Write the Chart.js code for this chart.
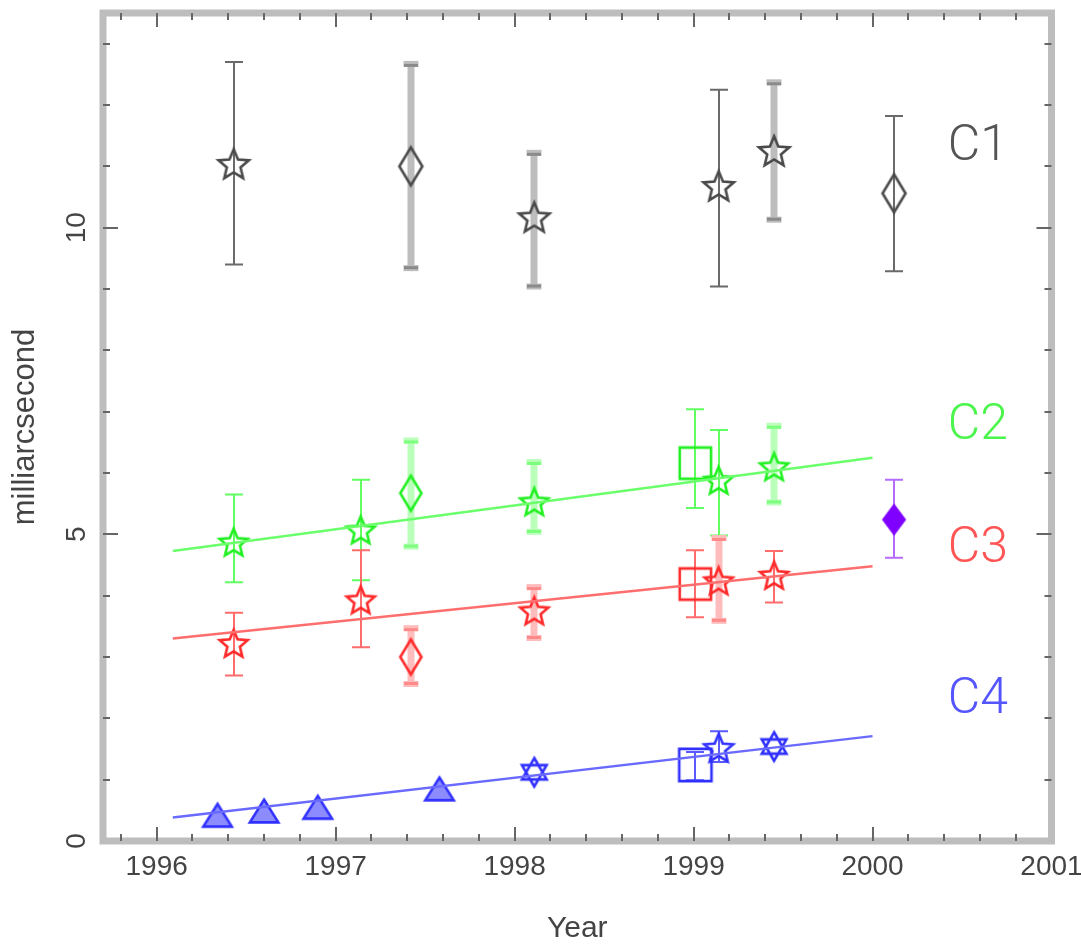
<!DOCTYPE html>
<html lang="en">
<head>
    <meta charset="UTF-8">
    <title>Séparation des composantes</title>
    <script src="https://cdn.jsdelivr.net/npm/chart.js@4.4.1/dist/chart.umd.min.js"></script>
    <style>
        html, body { margin: 0; padding: 0; background: #fff; }
    </style>
</head>
<body>
<canvas id="graphe" width="1081" height="947"></canvas>
<script>

    // Composante C1
    const anneesC1 = [1996.43, 1997.42, 1998.11, 1999.14, 1999.45, 2000.12];
    const valeursC1 = [11.04, 11.00, 10.17, 10.68, 11.25, 10.56];
    const basC1 = [9.40, 9.34, 9.04, 9.04, 10.13, 9.29];
    const hautC1 = [12.70, 12.67, 11.22, 12.25, 12.37, 11.82];
    const symbolesC1 = ['etoile', 'losange', 'etoile', 'etoile', 'etoile', 'losange'];
    const sessionsC1 = ['A', 'B', 'B', 'A', 'B', 'A'];

    // Composante C2
    const anneesC2 = [1996.43, 1997.14, 1997.42, 1998.11, 1999.01, 1999.14, 1999.45];
    const valeursC2 = [4.87, 5.07, 5.67, 5.53, 6.16, 5.88, 6.10];
    const basC2 = [4.22, 4.25, 4.80, 5.04, 5.43, 4.98, 5.52];
    const hautC2 = [5.65, 5.89, 6.53, 6.18, 7.04, 6.70, 6.77];
    const symbolesC2 = ['etoile', 'etoile', 'losange', 'etoile', 'carre', 'etoile', 'etoile'];
    const sessionsC2 = ['A', 'A', 'B', 'B', 'A', 'A', 'B'];

    // Composante C3
    const anneesC3 = [1996.43, 1997.14, 1997.42, 1998.11, 1999.01, 1999.14, 1999.45];
    const valeursC3 = [3.22, 3.93, 3.00, 3.75, 4.19, 4.24, 4.33];
    const basC3 = [2.70, 3.16, 2.56, 3.31, 3.65, 3.59, 3.89];
    const hautC3 = [3.72, 4.74, 3.47, 4.14, 4.74, 4.94, 4.73];
    const symbolesC3 = ['etoile', 'etoile', 'losange', 'etoile', 'carre', 'etoile', 'etoile'];
    const sessionsC3 = ['A', 'A', 'B', 'B', 'A', 'B', 'A'];

    // Composante C4
    const anneesC4 = [1996.34, 1996.60, 1996.90, 1997.58, 1998.11, 1999.01, 1999.14, 1999.45];
    const valeursC4 = [0.42, 0.49, 0.55, 0.85, 1.12, 1.24, 1.52, 1.54];
    const basC4 = [null, null, null, null, null, 0.99, 1.29, null];
    const hautC4 = [null, null, null, null, null, 1.45, 1.79, null];
    const symbolesC4 = ['triangle', 'triangle', 'triangle', 'triangle', 'hexa', 'carre', 'etoile', 'hexa'];

    // Point isolé (violet)
    const anneesC5 = [2000.12];
    const valeursC5 = [5.24];
    const basC5 = [4.62];
    const hautC5 = [5.89];

    // Ajustements linéaires
    const ajustAnnees = [1996.09, 2000.00];
    const ajustC2 = [4.73, 6.25];
    const ajustC3 = [3.30, 4.48];
    const ajustC4 = [0.385, 1.71];

    const ticksX = [1996, 1997, 1998, 1999, 2000, 2001];
    const ticksY = [0, 5, 10];
    const nomsComposantes = ['C1', 'C2', 'C3', 'C4'];

    const policeAxes = '"Liberation Sans", Arial, sans-serif';

    // Dessine un symbole sur un petit canvas (utilisé comme pointStyle)
    let creeSymbole = (forme, couleur, l, h, remplissage) => {
        let ep = 2.6;
        let c = document.createElement('canvas');
        c.width = Math.ceil(l + ep * 2 + 2);
        c.height = Math.ceil(h + ep * 2 + 2);
        let g = c.getContext('2d');
        let cx = c.width / 2, cy = c.height / 2;
        g.strokeStyle = couleur;
        g.lineWidth = ep;
        g.lineJoin = 'miter';
        g.beginPath();
        if (forme === 'etoile') {
            let R = l / 2;
            for (let k = 0; k < 10; k++) {
                let rr = k % 2 ? R * 0.45 : R;
                let a = -Math.PI / 2 + k * Math.PI / 5;
                g.lineTo(cx + rr * Math.cos(a), cy + 0.08 * R + rr * Math.sin(a));
            }
            g.closePath();
        } else if (forme === 'losange') {
            g.moveTo(cx, cy - h / 2);
            g.lineTo(cx + l / 2, cy);
            g.lineTo(cx, cy + h / 2);
            g.lineTo(cx - l / 2, cy);
            g.closePath();
        } else if (forme === 'carre') {
            g.rect(cx - l / 2, cy - h / 2, l, h);
        } else if (forme === 'triangle') {
            g.moveTo(cx, cy - h / 2);
            g.lineTo(cx + l / 2, cy + h / 2);
            g.lineTo(cx - l / 2, cy + h / 2);
            g.closePath();
        } else if (forme === 'hexa') {
            let R = l / 2;
            for (let t = 0; t < 2; t++) {
                for (let k = 0; k < 3; k++) {
                    let a = -Math.PI / 2 + t * Math.PI + k * 2 * Math.PI / 3;
                    if (k === 0) g.moveTo(cx + R * Math.cos(a), cy + R * Math.sin(a));
                    else g.lineTo(cx + R * Math.cos(a), cy + R * Math.sin(a));
                }
                g.closePath();
            }
        }
        if (remplissage) {
            g.fillStyle = remplissage;
            g.fill();
        }
        g.stroke();
        return c;
    };

    // Tailles des symboles selon la forme
    let tailles = {
        etoile: [32, 32], losange: [23, 38], carre: [34, 34], triangle: [30, 24], hexa: [30, 30]
    };

    let symboles = (liste, couleur, reduction, fond) => liste.map(forme => {
        let [l, h] = tailles[forme];
        let rempli = forme === 'triangle' ? fond : null;
        return creeSymbole(forme, couleur, l * reduction, h * reduction, rempli);
    });

    let points = (annees, valeurs) => annees.map((a, i) => ({ x: a, y: valeurs[i] }));

    // Barres d'erreur, dessinées sous les symboles
    const pluginBarres = {
        id: 'barres',
        beforeDatasetsDraw(chart) {
            const ctx = chart.ctx;
            const sx = chart.scales.x, sy = chart.scales.y;
            ctx.save();
            chart.data.datasets.forEach(ds => {
                if (!ds.bas) return;
                ds.data.forEach((p, i) => {
                    if (ds.bas[i] == null) return;
                    let x = Math.round(sx.getPixelForValue(p.x));
                    let y1 = sy.getPixelForValue(ds.bas[i]);
                    let y2 = sy.getPixelForValue(ds.haut[i]);
                    let large = ds.sessions && ds.sessions[i] === 'B';
                    if (large) {
                        ctx.strokeStyle = ds.couleurLarge;
                        ctx.lineWidth = 7;
                        ctx.beginPath();
                        ctx.moveTo(x, y1);
                        ctx.lineTo(x, y2);
                        ctx.stroke();
                        ctx.fillStyle = ds.couleurLarge;
                        ctx.fillRect(x - 7.5, y2 - 3, 15, 6);
                        ctx.fillRect(x - 7.5, y1 - 3, 15, 6);
                        ctx.fillStyle = ds.couleurCap;
                        ctx.fillRect(x - 7, y2, 14, 3);
                        ctx.fillRect(x - 7, y1 - 2, 14, 3);
                    } else {
                        ctx.strokeStyle = ds.couleurFine;
                        ctx.lineWidth = 2;
                        ctx.beginPath();
                        ctx.moveTo(x, y1);
                        ctx.lineTo(x, y2);
                        ctx.moveTo(x - 9, y1);
                        ctx.lineTo(x + 9, y1);
                        ctx.moveTo(x - 9, y2);
                        ctx.lineTo(x + 9, y2);
                        ctx.stroke();
                    }
                });
            });
            ctx.restore();
        }
    };

    // Cadre gris et graduations intérieures
    const pluginCadre = {
        id: 'cadre',
        afterDraw(chart) {
            const ctx = chart.ctx;
            const { left, right, top, bottom } = chart.chartArea;
            const sx = chart.scales.x, sy = chart.scales.y;
            ctx.save();
            ctx.strokeStyle = '#bdbdbd';
            ctx.lineWidth = 7;
            ctx.strokeRect(left, top, right - left, bottom - top);
            ctx.strokeStyle = '#666';
            ctx.lineWidth = 2;
            ctx.beginPath();
            for (let k = 1; k < 27; k++) {
                let v = 1995.6 + k * 0.2;
                let majeur = Math.abs(v - Math.round(v)) < 1e-6;
                let x = Math.round(sx.getPixelForValue(v));
                let lg = majeur ? 14 : 7;
                ctx.moveTo(x, bottom);
                ctx.lineTo(x, bottom - lg);
                ctx.moveTo(x, top);
                ctx.lineTo(x, top + lg);
            }
            for (let v = 1; v <= 13; v++) {
                let y = Math.round(sy.getPixelForValue(v));
                let lg = v % 5 === 0 ? 15 : 7;
                ctx.moveTo(left, y);
                ctx.lineTo(left + lg, y);
                ctx.moveTo(right, y);
                ctx.lineTo(right - lg, y);
            }
            ctx.stroke();
            ctx.restore();
        }
    };

    // Noms des composantes, placés en coordonnées du graphe
    const pluginNoms = {
        id: 'noms',
        afterDatasetsDraw(chart) {
            const ctx = chart.ctx;
            const sx = chart.scales.x, sy = chart.scales.y;
            const places = [[2000.42, 11.3, '#555'], [2000.42, 6.76, '#4cf54c'], [2000.42, 4.76, '#ff5555'], [2000.42, 2.29, '#5555ff']];
            ctx.save();
            ctx.font = '300 50px Roboto, "Open Sans", sans-serif';
            ctx.textBaseline = 'middle';
            ctx.textAlign = 'left';
            nomsComposantes.forEach((nom, i) => {
                let [a, v, coul] = places[i];
                ctx.fillStyle = coul;
                ctx.fillText(nom, sx.getPixelForValue(a), sy.getPixelForValue(v));
            });
            ctx.restore();
        }
    };

    let chargeGraphe = () => {

        let jeux = [
            { type: 'line', data: points(ajustAnnees, ajustC2), borderColor: '#6cff6c', borderWidth: 2.5, pointRadius: 0 },
            { type: 'line', data: points(ajustAnnees, ajustC3), borderColor: '#ff6e6e', borderWidth: 2.5, pointRadius: 0 },
            { type: 'line', data: points(ajustAnnees, ajustC4), borderColor: '#6a6aff', borderWidth: 2.5, pointRadius: 0 },
            {
                data: points(anneesC1, valeursC1), bas: basC1, haut: hautC1, sessions: sessionsC1,
                couleurFine: '#6a6a6a', couleurLarge: '#bdbdbd', couleurCap: '#8a8a8a',
                pointStyle: symboles(symbolesC1, '#4a4a4a', 1), pointRadius: 12
            },
            {
                data: points(anneesC2, valeursC2), bas: basC2, haut: hautC2, sessions: sessionsC2,
                couleurFine: '#62ff62', couleurLarge: '#baffba', couleurCap: '#7cff7c',
                pointStyle: symboles(symbolesC2, '#22f022', 0.92), pointRadius: 12
            },
            {
                data: points(anneesC3, valeursC3), bas: basC3, haut: hautC3, sessions: sessionsC3,
                couleurFine: '#ff6c6c', couleurLarge: '#ffbcbc', couleurCap: '#ff8a8a',
                pointStyle: symboles(symbolesC3, '#ff2a2a', 0.92), pointRadius: 12
            },
            {
                data: points(anneesC4, valeursC4), bas: basC4, haut: hautC4,
                couleurFine: '#5a5aff', couleurLarge: '#b8b8ff', couleurCap: '#7a7aff',
                pointStyle: symboles(symbolesC4, '#3030ff', 0.95, '#8c8cff'), pointRadius: 12
            },
            {
                data: points(anneesC5, valeursC5), bas: basC5, haut: hautC5,
                couleurFine: '#b46cff', couleurLarge: '#d8b4ff', couleurCap: '#b46cff',
                pointStyle: creeSymbole('losange', '#8000ff', 21, 28, '#8000ff'), pointRadius: 12
            }
        ];

        let ctx = document.getElementById('graphe').getContext('2d');
        new Chart(ctx, {
            type: 'scatter',
            data: { datasets: jeux },
            options: {
                responsive: false,
                animation: false,
                events: [],
                layout: { padding: { top: 10, right: 29.5, left: 0, bottom: 0 } },
                plugins: { legend: { display: false }, tooltip: { enabled: false } },
                scales: {
                    x: {
                        type: 'linear', min: 1995.7, max: 2001,
                        grid: { display: false, drawTicks: false },
                        border: { display: false },
                        afterBuildTicks: s => { s.ticks = ticksX.map(v => ({ value: v })); },
                        afterFit: s => { s.height = 106; s.paddingLeft = 0; s.paddingRight = 0; },
                        ticks: {
                            font: { family: policeAxes, size: 28 }, color: '#444',
                            padding: 9, maxRotation: 0, autoSkip: false,
                            callback: v => String(v)
                        },
                        title: {
                            display: true, text: 'Year', color: '#444',
                            font: { family: policeAxes, size: 30 }, padding: { top: 0, bottom: 0 }
                        }
                    },
                    y: {
                        type: 'linear', min: 0, max: 13.5,
                        grid: { display: false, drawTicks: false },
                        border: { display: false },
                        afterBuildTicks: s => { s.ticks = ticksY.map(v => ({ value: v })); },
                        afterFit: s => { s.width = 103; s.paddingTop = 0; s.paddingBottom = 0; },
                        ticks: {
                            font: { family: policeAxes, size: 28 }, color: '#444',
                            padding: 10, minRotation: 90, maxRotation: 90, crossAlign: 'center',
                            callback: v => String(v)
                        },
                        title: {
                            display: true, text: 'milliarcsecond', color: '#444',
                            font: { family: policeAxes, size: 31 }, padding: { top: 7, bottom: 0 }
                        }
                    }
                }
            },
            plugins: [pluginBarres, pluginNoms, pluginCadre]
        });
    };

    chargeGraphe();

</script>
</body>
</html>
